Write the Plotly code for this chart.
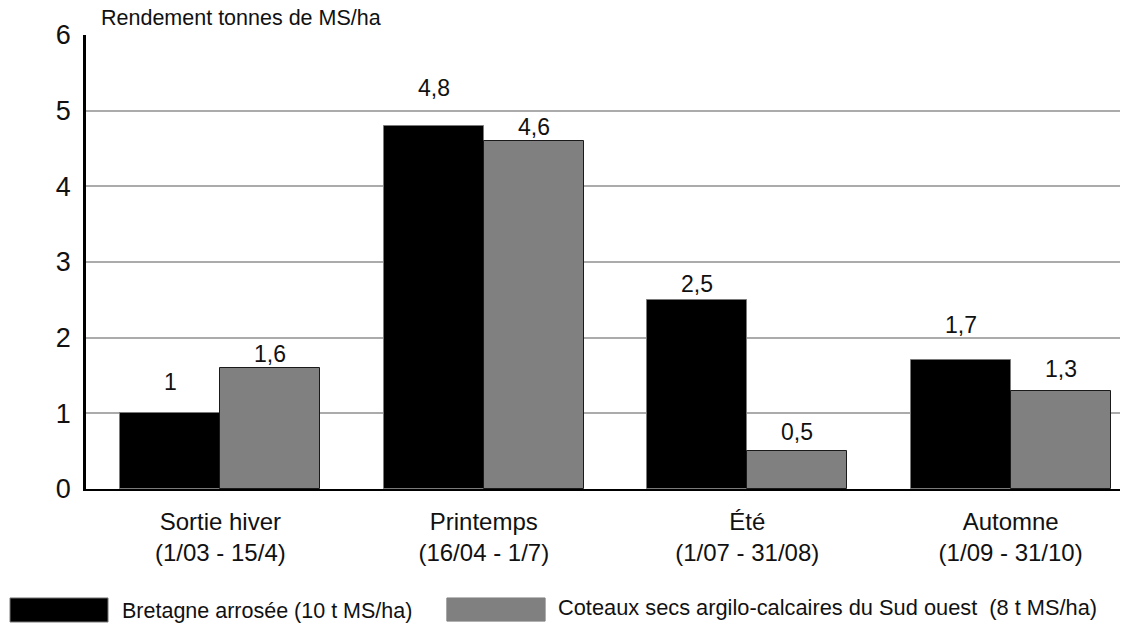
import plotly.graph_objects as go

# Rendement saisonnier de la prairie (t MS/ha)
categories = [
    "Sortie hiver<br>(1/03 - 15/4)",
    "Printemps<br>(16/04 - 1/7)",
    "Été<br>(1/07 - 31/08)",
    "Automne<br>(1/09 - 31/10)",
]
bretagne = [1.0, 4.8, 2.5, 1.7]
coteaux = [1.6, 4.6, 0.5, 1.3]
series_names = [
    "Bretagne arrosée (10 t MS/ha)",
    "Coteaux secs argilo-calcaires du Sud ouest  (8 t MS/ha)",
]
y_title = "Rendement tonnes de MS/ha"
y_ticks = [0, 1, 2, 3, 4, 5, 6]

# extra lift (px) of each value label above its bar
lift_bretagne = [16, 23, 1, 20]
lift_coteaux = [-1, -1, 4, 7]

FONT = "Liberation Sans, Arial, sans-serif"
TEXT = "#111111"
BLACK = "#000000"
GREY = "#808080"
BAR_W = 0.38

xs = list(range(len(categories)))

fig = go.Figure()
fig.add_trace(go.Bar(
    x=xs, y=bretagne, width=BAR_W, offset=-BAR_W, name=series_names[0],
    marker=dict(color=BLACK, line=dict(color="#7a7a7a", width=1)),
    showlegend=False,
))
fig.add_trace(go.Bar(
    x=xs, y=coteaux, width=BAR_W, offset=0, name=series_names[1],
    marker=dict(color=GREY, line=dict(color="#1a1a1a", width=1)),
    showlegend=False,
))


def fmt(v):
    return f"{v:g}".replace(".", ",")


annotations = []
for i, (vb, vc) in enumerate(zip(bretagne, coteaux)):
    annotations.append(dict(x=i - BAR_W / 2, y=vb, text=fmt(vb), showarrow=False,
                            yanchor="bottom", yshift=lift_bretagne[i],
                            font=dict(family=FONT, size=23, color=TEXT)))
    annotations.append(dict(x=i + BAR_W / 2, y=vc, text=fmt(vc), showarrow=False,
                            yanchor="bottom", yshift=lift_coteaux[i],
                            font=dict(family=FONT, size=23, color=TEXT)))

# y-axis caption, horizontal above the plot
annotations.append(dict(xref="paper", yref="paper", x=0.0126, y=1.037,
                        xanchor="left", yanchor="middle", text=y_title,
                        showarrow=False, font=dict(family=FONT, size=21.5, color=TEXT)))

# custom legend: wide swatches with text beside them
shapes = [
    dict(type="rect", xref="paper", yref="paper", x0=-0.0735, x1=0.0213,
         y0=-0.293, y1=-0.240, fillcolor=BLACK, line=dict(color="#7a7a7a", width=1)),
    dict(type="rect", xref="paper", yref="paper", x0=0.349, x1=0.444,
         y0=-0.291, y1=-0.240, fillcolor=GREY, line=dict(color=GREY, width=1)),
]
annotations.append(dict(xref="paper", yref="paper", x=0.0329, y=-0.268,
                        xanchor="left", yanchor="middle", text=series_names[0],
                        showarrow=False, font=dict(family=FONT, size=21.5, color=TEXT)))
annotations.append(dict(xref="paper", yref="paper", x=0.4545, y=-0.261,
                        xanchor="left", yanchor="middle", text=series_names[1],
                        showarrow=False, font=dict(family=FONT, size=21.8, color=TEXT)))

fig.update_layout(
    width=1122, height=624,
    margin=dict(l=86, r=2, t=35, b=135),
    paper_bgcolor="white", plot_bgcolor="white",
    font=dict(family=FONT, color=TEXT),
    annotations=annotations, shapes=shapes,
    bargap=0,
)
fig.update_xaxes(
    range=[-0.51, 3.415], tickvals=xs, ticktext=categories,
    tickfont=dict(family=FONT, size=24), ticks="outside", ticklen=10, tickcolor="white",
    showline=True, linecolor=BLACK, linewidth=2, showgrid=False, zeroline=False,
)
fig.update_yaxes(
    range=[0, 6], tickvals=y_ticks, tickfont=dict(family=FONT, size=27),
    ticks="outside", ticklen=7, tickcolor="white",
    showline=True, linecolor=BLACK, linewidth=2.5,
    showgrid=True, gridcolor="#ababab", gridwidth=1.5, zeroline=False,
)

fig.write_html("out.html")
